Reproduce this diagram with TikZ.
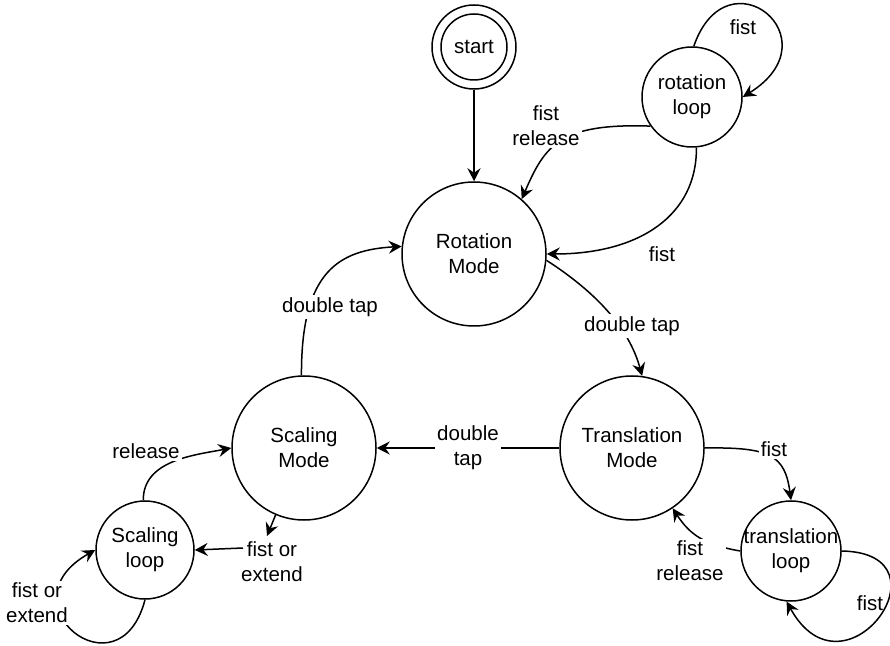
\documentclass[tikz,border=0pt]{standalone}
\usepackage{fontspec}
\setmainfont{Liberation Sans}
\usetikzlibrary{arrows.meta}
\begin{document}
\begin{tikzpicture}[x=1pt,y=1pt,
  font=\fontsize{20.5}{25}\selectfont,
  state/.style={draw, circle, line width=1.5pt, inner sep=0pt, align=center},
  edge/.style={line width=1.5pt, -{Stealth[length=13pt,width=13pt,inset=4.5pt]}},
  plainline/.style={line width=1.5pt},
  lab/.style={align=center, inner sep=2pt},
  lbw/.style={lab, fill=white}]
\useasboundingbox (0,0) rectangle (890,645);
% states
\node[state, minimum size=84pt] (start) at (474,598) {start};
\draw[plainline] (start.center) circle[radius=33pt];
\node[state, minimum size=144pt] (rm) at (474,391) {Rotation\\Mode};
\node[state, minimum size=100pt] (rl) at (692,548) {rotation\\loop};
\node[state, minimum size=144pt] (sm) at (304,197) {Scaling\\Mode};
\node[state, minimum size=144pt] (tm) at (632,197) {Translation\\Mode};
\node[state, minimum size=98pt] (sl) at (145,95) {Scaling\\loop};
\node[state, minimum size=100pt, inner sep=-3pt] (tl) at (791,94) {translation\\loop};
\coordinate (fa) at (267,109);
\coordinate (fb) at (243,97);
% edges
\draw[edge] (start) -- (rm);
\draw[edge] (rl.215) .. controls (560,522) and (545,500) .. (rm.49)
  node[lbw] at (546,519) {fist\\release};
\draw[edge] (rl.88) .. controls (727,695) and (836,606) .. (rl.0)
  node[lab] at (743,618) {fist};
\draw[edge] (rl.275) .. controls (697,430) and (640,391) .. (rm.0)
  node[lab] at (662,391) {fist};
\draw[edge] (rm.355) .. controls (605,347) and (631,310) .. (tm.82)
  node[lbw] at (632,319) {double tap};
\draw[edge] (sm.92) .. controls (301,375) and (340,395) .. (rm.174)
  node[lbw] at (330,338) {double tap};
\draw[edge] (tm) -- node[lbw] {double\\tap} (sm);
\draw[edge] (tm.0) .. controls (770,198) and (785,190) .. (tl.90)
  node[lbw] at (774,196) {fist};
\draw[edge] (tl.180) .. controls (705,100) and (690,110) .. (tm.304)
  node[lbw] at (690,84) {fist\\release};
\draw[edge] (tl.0) .. controls (955,92) and (845,-62) .. (tl.265)
  node[lab] at (870,42) {fist};
\draw[edge] (sm.247) -- (fa);
\draw[edge] (fb) -- (sl.0);
\node[lab] (fe) at (272,83) {fist or\\extend};
\draw[edge] (sl.92) .. controls (143,185) and (195,190) .. (sm.180)
  node[lbw] at (146,194) {release};
\draw[edge] (sl.270) .. controls (119,-54) and (1,42) .. (sl.180)
  node[lbw] at (37,42) {fist or\\extend};
\end{tikzpicture}
\end{document}
